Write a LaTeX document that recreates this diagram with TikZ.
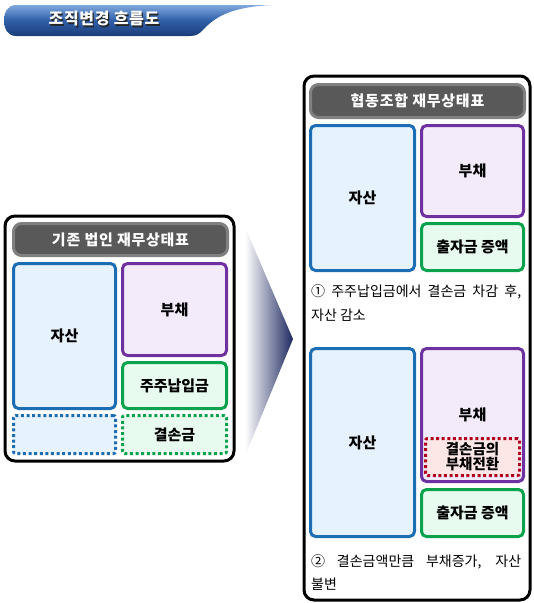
\documentclass[tikz,border=0pt]{standalone}
\usepackage{fontspec}
\setmainfont{Noto Sans CJK KR}
\definecolor{cblue}{HTML}{1C6DB4}
\definecolor{fblue}{HTML}{E6F2FE}
\definecolor{cpur}{HTML}{7031A0}
\definecolor{fpur}{HTML}{F3EBFA}
\definecolor{cgrn}{HTML}{0BA24E}
\definecolor{fgrn}{HTML}{E7FBEE}
\definecolor{cred}{HTML}{B0001E}
\definecolor{fred}{HTML}{FCE6E6}
\definecolor{hdrf}{HTML}{595959}
\definecolor{hdrb}{HTML}{808080}
\definecolor{navy}{HTML}{1E2960}
\definecolor{bandark}{HTML}{1B3C78}
\definecolor{banmid}{HTML}{2F5FA8}
\definecolor{banlight}{HTML}{7FA8DE}
\tikzset{
  box/.style={draw, line width=3pt, rounded corners=5pt, inner sep=0pt,
    font=\bfseries\fontsize{15}{17}\selectfont, align=center},
  bluebox/.style={box, draw=cblue, fill=fblue},
  purbox/.style={box, draw=cpur, fill=fpur},
  grnbox/.style={box, draw=cgrn, fill=fgrn},
  dotted box/.style={dash pattern=on 3pt off 2.6pt, rounded corners=2pt},
  outerbox/.style={draw=black, line width=3pt, rounded corners=10pt, fill=white, inner sep=0pt},
  hdr/.style={draw=hdrb, fill=hdrf, line width=3pt, rounded corners=8pt, text=white,
    inner sep=0pt, font=\bfseries\fontsize{15}{17}\selectfont\addfontfeature{LetterSpace=5}},
  caption/.style={anchor=west, inner sep=0pt, font=\fontsize{14}{16}\selectfont},
  bannertext/.style={font=\bfseries\fontsize{16}{18}\selectfont\addfontfeature{LetterSpace=4}}
}
\begin{document}
\begin{tikzpicture}[x=1pt,y=-1pt]
\useasboundingbox (0,0) rectangle (534,603);
% title banner
\shade[top color=banlight, bottom color=bandark, middle color=banmid]
  (16,5) -- (272,5) .. controls (228,7) and (213,19) .. (203,30)
  .. controls (199,34) and (196,36) .. (190,36) -- (16,36)
  .. controls (8,36) and (4,29) .. (4,20.5) .. controls (4,12) and (8,5) .. (16,5) -- cycle;
\node[bannertext, text=black!85] at (105.2,20.2) {조직변경 흐름도};
\node (title) [bannertext, text=white] at (104,19) {조직변경 흐름도};
% arrow
\shade[left color=white, right color=navy] (245,227) -- (293,339) -- (245,456) -- cycle;
% left panel
\node (L) [outerbox, minimum width=229pt, minimum height=245pt] at (119.5,338.5) {};
\node (Lh) [hdr, minimum width=214pt, minimum height=32pt] at (120.5,239.5) {기존 법인 재무상태표};
\node (La) [bluebox, minimum width=102pt, minimum height=145pt] at (64.5,336) {자산};
\node (Ld) [purbox, minimum width=104pt, minimum height=92pt] at (174.5,309.5) {부채};
\node (Lp) [grnbox, minimum width=104pt, minimum height=46pt] at (174.5,385.5) {주주납입금};
\node (Le) [bluebox, dotted box, minimum width=102pt, minimum height=38pt] at (64.5,434.5) {};
\node (Ll) [grnbox, dotted box, minimum width=104pt, minimum height=38pt] at (174.5,434.5) {결손금};
% right panel
\node (R) [outerbox, minimum width=226pt, minimum height=524pt] at (417,338) {};
\node (Rh) [hdr, minimum width=214pt, minimum height=33pt] at (417.5,101) {협동조합 재무상태표};
\node (Ra1) [bluebox, minimum width=104pt, minimum height=145pt] at (362.5,198) {자산};
\node (Rd1) [purbox, minimum width=102pt, minimum height=91pt] at (472.5,171) {부채};
\node (Rc1) [grnbox, minimum width=102pt, minimum height=47pt] at (472.5,247) {출자금 증액};
\node (t1a) [caption] at (311,292) {\makebox[210pt][s]{① 주주납입금에서 결손금 차감 후,}};
\node (t1b) [caption] at (311,315) {자산 감소};
\node (Ra2) [bluebox, minimum width=104pt, minimum height=188pt] at (362.5,442.5) {자산};
\node (Rd2) [purbox, minimum width=102pt, minimum height=133pt] at (472.5,415) {부채};
\node (Rx) [box, dotted box, draw=cred, fill=fred, minimum width=94pt, minimum height=37pt,
  font=\bfseries\fontsize{14.5}{15}\selectfont] at (472.5,457) {결손금의\\부채전환};
\node (Rc2) [grnbox, minimum width=102pt, minimum height=47pt] at (472.5,513) {출자금 증액};
\node (t2a) [caption] at (311,562) {\makebox[210pt][s]{② 결손금액만큼 부채증가, 자산}};
\node (t2b) [caption] at (311,584) {불변};
\end{tikzpicture}
\end{document}
